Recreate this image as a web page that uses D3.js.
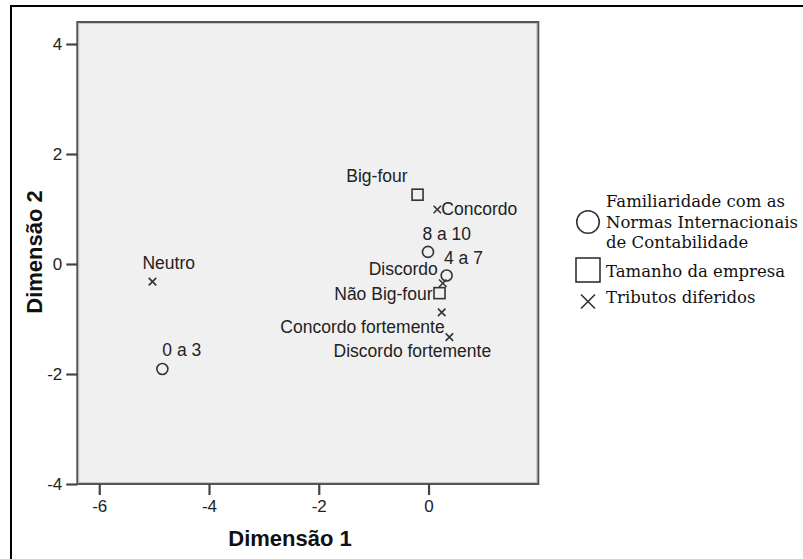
<!DOCTYPE html>
<html>
<head>
<meta charset="utf-8">
<script src="https://cdn.jsdelivr.net/npm/d3@7"></script>
<style>
html,body{margin:0;padding:0;background:#fff;}
svg{display:block;}
</style>
</head>
<body>
<svg id="chart" width="803" height="559"></svg>
<script>
// ---- data ----
const labels = ["Neutro","0 a 3","Big-four","Concordo","8 a 10","4 a 7","Discordo","Não Big-four","Concordo fortemente","Discordo fortemente"];
const groups = ["x","o","s","x","o","o","x","s","x","x"]; // o: Familiaridade, s: Tamanho, x: Tributos
const dim1 = [-5.03,-4.85,-0.20,0.16,-0.01,0.33,0.26,0.20,0.24,0.38];
const dim2 = [-0.32,-1.91,1.26,0.99,0.22,-0.21,-0.35,-0.53,-0.88,-1.33];
const xTicks = [-6,-4,-2,0];
const yTicks = [-4,-2,0,2,4];
const legendItems = [
  {key:"o", lines:["Familiaridade com as","Normas Internacionais","de Contabilidade"]},
  {key:"s", lines:["Tamanho da empresa"]},
  {key:"x", lines:["Tributos diferidos"]}
];
// label placement (layout only): dx, dy relative to point, anchor
const labelLayout = [
  {dx:-10, dy:-12.7, a:"start"},
  {dx:0, dy:-12.6, a:"start"},
  {dx:-10, dy:-12.3, a:"end"},
  {dx:4, dy:5.5, a:"start"},
  {dx:-5.6, dy:-12.4, a:"start"},
  {dx:-2.7, dy:-12, a:"start"},
  {dx:-5, dy:-8, a:"end"},
  {dx:-7, dy:6.7, a:"end"},
  {dx:3, dy:20.3, a:"end"},
  {dx:-37, dy:20, a:"middle"}
];

const svg = d3.select("#chart");
const W = 803, H = 559;
svg.append("rect").attr("width",W).attr("height",H).attr("fill","#fff");
// outer border (extends past the right and bottom edges, as in the reference)
svg.append("rect").attr("x",11).attr("y",6).attr("width",800).attr("height",560)
  .attr("fill","none").attr("stroke","#000").attr("stroke-width",2);

const L = 77.3, R = 538.3, T = 22, B = 484;
const x = d3.scaleLinear().domain([-6.4,2.0]).range([L,R]);
const y = d3.scaleLinear().domain([-4,4.4]).range([B,T]);

// plot area
svg.append("rect").attr("x",L).attr("y",T).attr("width",R-L).attr("height",B-T)
  .attr("fill","#f0f0f0").attr("stroke","#555").attr("stroke-width",2);
svg.append("rect").attr("x",L+1.5).attr("y",T+1.5).attr("width",R-L-3).attr("height",B-T-3)
  .attr("fill","none").attr("stroke","#bbb").attr("stroke-width",0.8);

const tickFont = "'Liberation Sans', Arial, sans-serif";
const fmt = d => String(d); // plain hyphen-minus like the reference

// x axis
const xAxis = d3.axisBottom(x).tickValues(xTicks).tickSize(11).tickPadding(5).tickFormat(fmt);
const gx = svg.append("g").attr("transform",`translate(0,${B})`).call(xAxis);
gx.select(".domain").remove();
gx.selectAll(".tick line").attr("stroke","#444").attr("stroke-width",2.2);
gx.selectAll(".tick text").attr("fill","#222").style("font-family",tickFont).style("font-size","17px");

// y axis
const yAxis = d3.axisLeft(y).tickValues(yTicks).tickSize(11).tickPadding(4).tickFormat(fmt);
const gy = svg.append("g").attr("transform",`translate(${L},0)`).call(yAxis);
gy.select(".domain").remove();
gy.selectAll(".tick line").attr("stroke","#444").attr("stroke-width",2.2);
gy.selectAll(".tick text").attr("fill","#222").style("font-family",tickFont).style("font-size","17px");

// axis titles
svg.append("text").attr("x",290).attr("y",546).attr("text-anchor","middle")
  .style("font-family",tickFont).style("font-size","22px").style("font-weight","bold").attr("fill","#111")
  .text("Dimensão 1");
svg.append("text").attr("transform","translate(41.5,252) rotate(-90)").attr("text-anchor","middle")
  .style("font-family",tickFont).style("font-size","22px").style("font-weight","bold").attr("fill","#111")
  .text("Dimensão 2");

// marker drawing
function drawMarker(g, key, cx, cy, size){
  const col = "#333";
  if(key==="o"){
    g.append("circle").attr("cx",cx).attr("cy",cy).attr("r",size/2)
      .attr("fill","none").attr("stroke",col).attr("stroke-width",1.6);
  } else if(key==="s"){
    g.append("rect").attr("x",cx-size/2).attr("y",cy-size/2).attr("width",size).attr("height",size)
      .attr("fill","none").attr("stroke",col).attr("stroke-width",1.6);
  } else {
    const h = size/2;
    g.append("path").attr("d",`M${cx-h},${cy-h}L${cx+h},${cy+h}M${cx-h},${cy+h}L${cx+h},${cy-h}`)
      .attr("stroke",col).attr("stroke-width",1.6).attr("fill","none");
  }
}

const pts = svg.append("g");
const sizes = {o:11, s:11, x:7.5};
labels.forEach((lab,i)=>{
  const cx = x(dim1[i]), cy = y(dim2[i]);
  drawMarker(pts, groups[i], cx, cy, sizes[groups[i]]);
  const lay = labelLayout[i];
  pts.append("text").attr("x",cx+lay.dx).attr("y",cy+lay.dy).attr("text-anchor",lay.a)
    .style("font-family",tickFont).style("font-size","17.5px").attr("fill","#222").text(lab);
});

// legend
const leg = svg.append("g");
const serif = "'DejaVu Serif', 'Liberation Serif', serif";
const legMarkerY = [222, 270, 301.5];
const legMarkerSize = {o:22.5, s:24, x:14};
const legBaselines = [[206.7,227.7,248.3],[276.7],[303]];
legendItems.forEach((it,i)=>{
  drawMarker(leg, it.key, 588, legMarkerY[i], legMarkerSize[it.key]);
  it.lines.forEach((ln,j)=>{
    leg.append("text").attr("x",606).attr("y",legBaselines[i][j])
      .style("font-family",serif).style("font-size","16.5px").attr("fill","#111").text(ln);
  });
});
</script>
</body>
</html>
